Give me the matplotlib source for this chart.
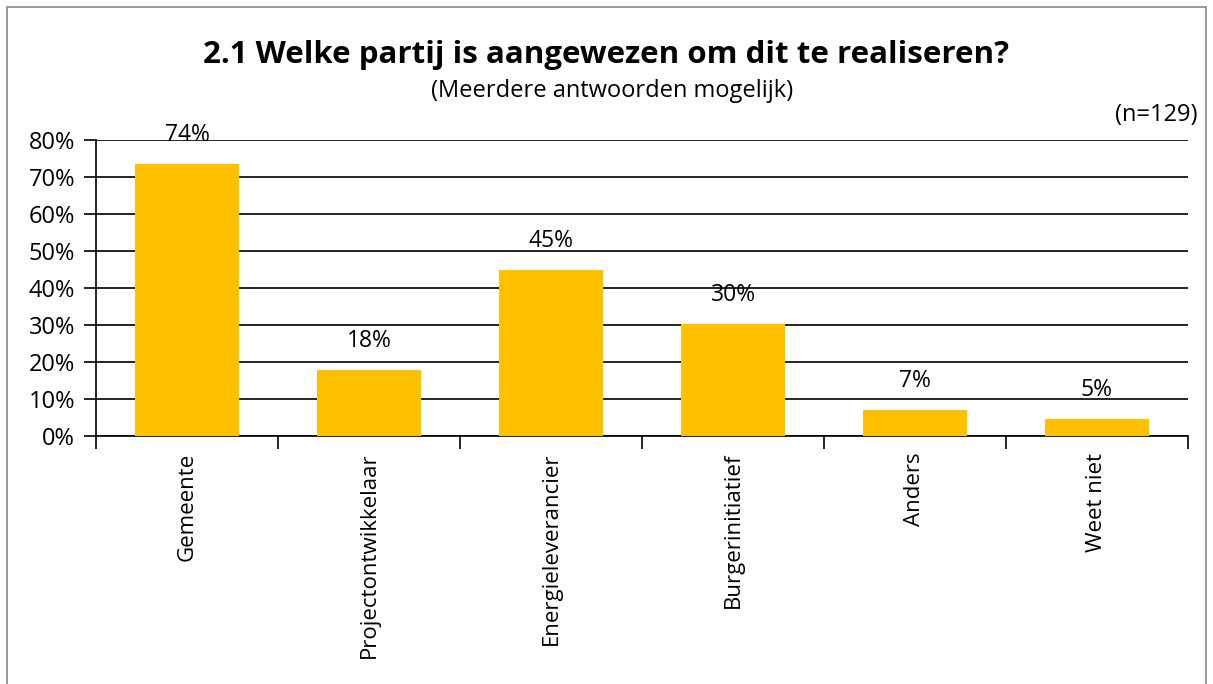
import matplotlib.pyplot as plt
from matplotlib.patches import Rectangle

categories = ['Gemeente', 'Projectontwikkelaar', 'Energieleverancier',
              'Burgerinitiatief', 'Anders', 'Weet niet']
values = [73.6, 17.8, 45.0, 30.2, 7.0, 4.7]
labels = ['74%', '18%', '45%', '30%', '7%', '5%']
yticks = [0, 10, 20, 30, 40, 50, 60, 70, 80]

plt.rcParams['font.family'] = ['Open Sans', 'DejaVu Sans']

fig = plt.figure(figsize=(12.13, 6.84), dpi=100)
fig.patches.append(Rectangle((7 / 1213, -0.01), 1199 / 1213, 1 - 7 / 684 + 0.01,
                             transform=fig.transFigure, fill=False,
                             edgecolor='#888888', linewidth=1.2))

ax = fig.add_axes([96 / 1213, 1 - 436 / 684, (1188 - 96) / 1213, 296 / 684])
x = list(range(len(categories)))
ax.bar(x, values, width=0.57, color='#FFC000', zorder=3)
for xi, v, lab in zip(x, values, labels):
    ax.text(xi, v + 7.8, lab, ha='center', va='center', fontsize=16.5)

ax.set_xlim(-0.5, len(categories) - 0.5)
ax.set_ylim(0, 80)
ax.set_yticks(yticks)
ax.set_yticklabels([f'{t}%' for t in yticks], fontsize=17)
ax.yaxis.grid(True, color='black', linewidth=1.2, zorder=0)
ax.tick_params(axis='y', length=9, width=1.2, pad=6)

ax.set_xticks([i - 0.5 for i in range(len(categories) + 1)])
ax.set_xticklabels([])
ax.tick_params(axis='x', length=9, width=1.2)
ax.set_xticks(x, minor=True)
ax.set_xticklabels(categories, minor=True, rotation=90, fontsize=16, va='top')
ax.tick_params(axis='x', which='minor', length=0, pad=12)

for s in ['top', 'right']:
    ax.spines[s].set_visible(False)
ax.spines['left'].set_linewidth(1.2)
ax.spines['bottom'].set_linewidth(1.2)

fig.text(606 / 1213, 1 - 55 / 684, '2.1 Welke partij is aangewezen om dit te realiseren?',
         ha='center', va='center', fontsize=22.5, fontweight='bold')
fig.text(612 / 1213, 1 - 91 / 684, '(Meerdere antwoorden mogelijk)',
         ha='center', va='center', fontsize=17)
fig.text(1197 / 1213, 1 - 115 / 684, '(n=129)', ha='right', va='center', fontsize=17)

fig.savefig('out.png', dpi=100)
